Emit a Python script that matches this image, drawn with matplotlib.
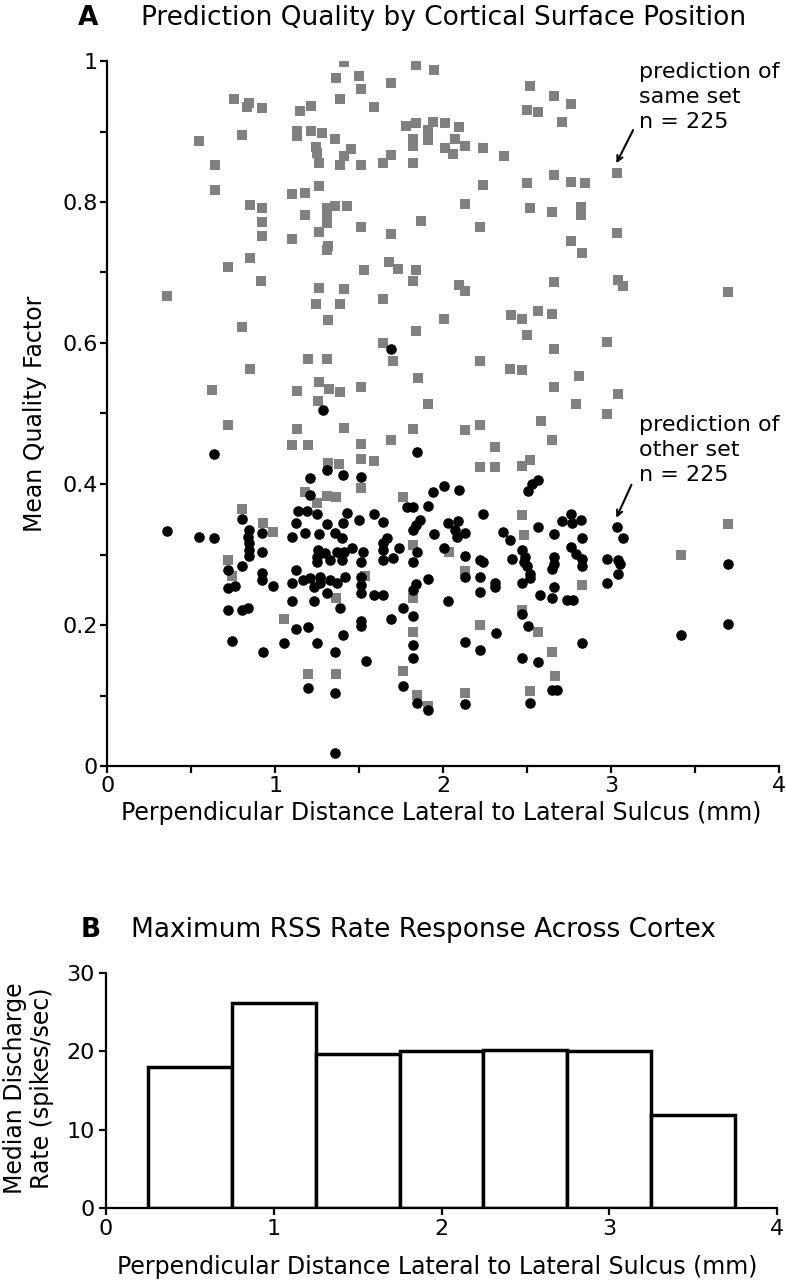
import numpy as np
import matplotlib
matplotlib.use('Agg')
from matplotlib import pyplot as plt
from matplotlib.ticker import MultipleLocator

plt.rcParams['font.family'] = ['DejaVu Sans']

# --- panel A data: prediction of same set (gray squares)
same_x = [1.41, 1.36, 1.50, 1.51, 1.69, 1.84, 1.945, 0.756, 0.843, 0.83, 0.923, 1.385, 1.59, 1.145, 1.21,
          1.13, 1.13, 1.21, 1.28, 1.353, 1.245, 1.25, 1.262, 1.385, 1.41, 1.449, 1.51, 1.64, 1.69, 1.818,
          0.548, 0.80, 0.64, 0.64, 1.78, 1.84, 1.818, 1.82, 1.91, 1.91, 1.94, 2.01, 2.01, 1.10, 1.175,
          1.262, 0.85, 0.923, 0.923, 0.923, 1.175, 1.306, 1.306, 1.31, 1.355, 1.425, 1.51, 1.262, 1.10, 1.313,
          1.307, 1.69, 1.866, 0.85, 0.72, 0.917, 0.355, 1.262, 1.41, 1.385, 1.245, 1.64, 1.528, 1.675, 1.732,
          1.84, 1.818, 1.315, 0.80, 1.84, 2.005, 1.64, 1.70, 1.193, 1.307, 0.85, 1.848, 0.623, 1.13, 1.262,
          1.317, 1.385, 1.51, 1.91, 1.256,
          2.516, 2.66, 2.758, 2.496, 2.565, 2.708, 2.093, 2.07, 2.058, 2.13, 2.238, 2.361, 2.238, 2.13, 2.217,
          2.496, 2.66, 2.758, 2.843, 3.032, 2.516, 2.645, 2.818, 2.818, 3.032, 2.758, 2.824, 2.095, 2.127, 2.66,
          3.04, 3.068, 3.693, 2.403, 2.467, 2.565, 2.645, 2.496, 2.66, 2.976, 2.217, 2.397, 2.468, 2.81, 2.66,
          3.04, 2.79,
          0.72, 1.13, 1.41, 1.818, 1.10, 1.195, 1.51, 1.69, 1.51, 1.587, 1.315, 1.38, 1.51, 1.175, 1.306,
          1.36, 1.247, 1.762, 0.80, 0.929, 0.988, 0.72, 0.74, 1.535, 1.36, 1.82, 1.82, 1.054, 1.818, 1.193,
          1.36, 1.762, 1.846, 1.91,
          2.972, 2.58, 2.128, 2.218, 2.645, 2.308, 2.218, 2.308, 2.468, 2.516, 2.468, 2.48, 2.034, 2.128, 2.824,
          2.468, 2.218, 2.566, 2.645, 2.664, 2.128, 2.516, 3.413, 3.693]
same_y = [0.998, 0.976, 0.979, 0.960, 0.969, 0.994, 0.987, 0.946, 0.940, 0.935, 0.934, 0.946, 0.935, 0.929, 0.936,
          0.901, 0.894, 0.901, 0.898, 0.890, 0.878, 0.869, 0.856, 0.853, 0.865, 0.875, 0.852, 0.855, 0.866, 0.856,
          0.886, 0.895, 0.853, 0.817, 0.908, 0.912, 0.890, 0.880, 0.902, 0.888, 0.914, 0.912, 0.877, 0.812, 0.813,
          0.822, 0.796, 0.792, 0.771, 0.752, 0.782, 0.791, 0.780, 0.770, 0.795, 0.795, 0.765, 0.757, 0.748, 0.738,
          0.732, 0.754, 0.773, 0.720, 0.708, 0.688, 0.667, 0.678, 0.676, 0.656, 0.656, 0.662, 0.703, 0.715, 0.705,
          0.703, 0.688, 0.633, 0.623, 0.617, 0.634, 0.600, 0.575, 0.578, 0.578, 0.563, 0.551, 0.533, 0.532, 0.544,
          0.535, 0.531, 0.538, 0.513, 0.518,
          0.964, 0.951, 0.939, 0.930, 0.927, 0.913, 0.907, 0.890, 0.868, 0.879, 0.876, 0.865, 0.824, 0.797, 0.764,
          0.827, 0.838, 0.828, 0.827, 0.841, 0.792, 0.786, 0.793, 0.782, 0.756, 0.745, 0.728, 0.682, 0.674, 0.686,
          0.690, 0.681, 0.672, 0.640, 0.634, 0.645, 0.641, 0.611, 0.591, 0.601, 0.575, 0.563, 0.561, 0.553, 0.538,
          0.527, 0.513,
          0.483, 0.478, 0.479, 0.478, 0.456, 0.456, 0.457, 0.463, 0.436, 0.433, 0.430, 0.428, 0.395, 0.389, 0.383,
          0.382, 0.373, 0.381, 0.365, 0.344, 0.332, 0.292, 0.269, 0.269, 0.238, 0.239, 0.313, 0.208, 0.190, 0.130,
          0.130, 0.135, 0.101, 0.085,
          0.499, 0.490, 0.476, 0.483, 0.462, 0.453, 0.424, 0.424, 0.425, 0.434, 0.356, 0.328, 0.303, 0.276, 0.257,
          0.221, 0.200, 0.190, 0.162, 0.127, 0.104, 0.107, 0.300, 0.343]

# --- panel A data: prediction of other set (black circles)
other_x = [1.687, 1.282, 0.635, 1.841, 1.307, 1.405, 1.207, 1.510, 1.207, 1.941, 2.006, 1.782, 1.820, 1.911, 1.137,
           1.187, 1.246, 1.425, 1.587, 0.800, 1.123, 1.307, 1.405, 1.498, 1.643, 1.861, 1.838, 1.820, 0.353, 0.546,
           0.637, 0.845, 0.923, 0.840, 1.097, 1.177, 1.260, 1.355, 1.395, 1.947, 2.030, 0.845, 0.845, 0.845, 0.923,
           1.256, 1.246, 1.246, 1.295, 1.325, 1.365, 1.395, 1.454, 1.410, 1.524, 1.510, 1.639, 1.667, 1.643, 1.643,
           1.703, 1.736, 1.841, 1.818, 2.006, 0.720, 0.802, 0.923, 0.923, 0.984, 0.720, 0.760, 1.123, 1.097, 1.167,
           1.207, 1.228, 1.266, 1.266, 1.325, 1.305, 1.365, 1.415, 1.510, 1.510, 1.510, 1.585, 1.643, 1.838, 1.820,
           1.911, 2.030, 0.720, 0.800, 0.840, 1.097, 1.228, 1.385, 1.762, 1.820, 1.687, 1.510, 1.510, 1.123, 1.193,
           1.405, 0.740, 1.054, 1.246, 1.818, 0.929, 1.355, 1.818, 1.538, 1.193, 1.355, 1.762, 1.841, 1.911, 1.355,
           2.095, 2.504, 2.527, 2.566, 2.238, 2.089, 2.070, 2.128, 2.080, 2.358, 2.397, 2.566, 2.661, 2.704, 2.758,
           2.764, 2.818, 2.824, 2.758, 3.036, 3.068, 2.128, 2.218, 2.238, 2.216, 2.128, 2.216, 2.308, 2.308, 2.407,
           2.466, 2.486, 2.480, 2.496, 2.516, 2.516, 2.466, 2.657, 2.657, 2.645, 2.790, 2.827, 2.824, 2.972, 3.042,
           3.050, 3.042, 2.972, 2.661, 2.576, 2.645, 2.734, 2.770, 2.468, 2.506, 2.313, 2.128, 2.218, 2.824, 2.468,
           2.566, 2.645, 2.675, 2.128, 2.516, 3.693, 3.693, 3.413]
other_y = [0.591, 0.505, 0.442, 0.445, 0.420, 0.413, 0.408, 0.410, 0.384, 0.389, 0.397, 0.367, 0.368, 0.369, 0.361,
           0.361, 0.357, 0.359, 0.357, 0.350, 0.344, 0.343, 0.345, 0.349, 0.346, 0.349, 0.342, 0.335, 0.334, 0.325,
           0.323, 0.335, 0.331, 0.325, 0.325, 0.330, 0.329, 0.330, 0.323, 0.329, 0.344, 0.316, 0.306, 0.298, 0.304,
           0.306, 0.297, 0.290, 0.302, 0.292, 0.303, 0.292, 0.309, 0.304, 0.304, 0.290, 0.316, 0.323, 0.306, 0.292,
           0.295, 0.309, 0.304, 0.289, 0.309, 0.278, 0.284, 0.274, 0.264, 0.255, 0.252, 0.255, 0.278, 0.259, 0.264,
           0.266, 0.254, 0.268, 0.259, 0.264, 0.245, 0.259, 0.268, 0.268, 0.257, 0.245, 0.242, 0.242, 0.258, 0.250,
           0.265, 0.234, 0.221, 0.221, 0.224, 0.234, 0.234, 0.224, 0.224, 0.213, 0.208, 0.205, 0.198, 0.194, 0.197,
           0.186, 0.178, 0.175, 0.175, 0.172, 0.162, 0.162, 0.153, 0.149, 0.111, 0.104, 0.114, 0.089, 0.079, 0.018,
           0.392, 0.390, 0.400, 0.406, 0.358, 0.347, 0.335, 0.330, 0.325, 0.332, 0.321, 0.339, 0.329, 0.347, 0.358,
           0.344, 0.349, 0.324, 0.311, 0.339, 0.323, 0.298, 0.292, 0.290, 0.268, 0.268, 0.247, 0.259, 0.254, 0.293,
           0.306, 0.297, 0.290, 0.283, 0.273, 0.266, 0.260, 0.297, 0.287, 0.279, 0.301, 0.294, 0.283, 0.293, 0.292,
           0.287, 0.273, 0.260, 0.254, 0.242, 0.238, 0.235, 0.235, 0.216, 0.198, 0.188, 0.176, 0.164, 0.175, 0.153,
           0.147, 0.108, 0.108, 0.088, 0.090, 0.286, 0.201, 0.186]

# --- panel B data: median discharge rate per 0.5 mm bin
bin_centers = [0.5, 1.0, 1.5, 2.0, 2.5, 3.0, 3.5]
median_rate = [18.0, 26.2, 19.6, 20.0, 20.2, 20.0, 11.9]

W, H = 786, 1280
fig = plt.figure(figsize=(W / 100, H / 100), dpi=100)

def px(x0, y0, x1, y1):
    # pixel box (top-left origin) -> figure fraction rect
    return [x0 / W, 1 - y1 / H, (x1 - x0) / W, (y1 - y0) / H]

lab_fs = 17
tick_fs = 16
title_fs = 19

# ---------------- panel A
ax = fig.add_axes(px(107.3, 61, 779.3, 766))
ax.scatter(same_x, same_y, marker='s', s=42, color='#808080', linewidths=0, zorder=2)
ax.scatter(other_x, other_y, marker='o', s=58, color='black', linewidths=0, zorder=3)
ax.set_xlim(0, 4)
ax.set_ylim(0, 1)
ax.xaxis.set_major_locator(MultipleLocator(1))
ax.xaxis.set_minor_locator(MultipleLocator(0.5))
ax.yaxis.set_minor_locator(MultipleLocator(0.1))
ax.set_yticks([0, 0.2, 0.4, 0.6, 0.8, 1.0])
ax.set_yticklabels(['0', '0.2', '0.4', '0.6', '0.8', '1'])
for s in ['top', 'right']:
    ax.spines[s].set_visible(False)
for s in ['left', 'bottom']:
    ax.spines[s].set_linewidth(1.6)
ax.tick_params(which='both', direction='out', length=5, width=1.6, labelsize=tick_fs, pad=2)
ax.set_xlabel('Perpendicular Distance Lateral to Lateral Sulcus (mm)', fontsize=lab_fs, va='center')
ax.xaxis.set_label_coords(0.4966, -0.066)
ax.set_ylabel('Mean Quality Factor', fontsize=lab_fs, va='center')
ax.yaxis.set_label_coords(-0.107, 0.5)

ax.text(3.165, 0.949, 'prediction of\nsame set\nn = 225', fontsize=16, ha='left', va='center',
        linespacing=1.3)
ax.annotate('', xy=(3.03, 0.855), xytext=(3.13, 0.902),
            arrowprops=dict(arrowstyle='->', lw=1.5, color='black', shrinkA=0, shrinkB=0))
ax.text(3.165, 0.448, 'prediction of\nother set\nn = 225', fontsize=16, ha='left', va='center',
        linespacing=1.3)
ax.annotate('', xy=(3.03, 0.352), xytext=(3.12, 0.399),
            arrowprops=dict(arrowstyle='->', lw=1.5, color='black', shrinkA=0, shrinkB=0))

fig.text(88 / W, 1 - 18 / H, 'A', fontsize=title_fs, fontweight='bold', ha='center', va='center')
fig.text(141 / W, 1 - 18 / H, 'Prediction Quality by Cortical Surface Position', fontsize=title_fs,
         ha='left', va='center')

# ---------------- panel B
bx = fig.add_axes(px(106, 972.7, 777, 1208.3))
bx.bar(bin_centers, median_rate, width=0.5, facecolor='white', edgecolor='black', linewidth=2.5, zorder=2)
bx.set_xlim(0, 4)
bx.set_ylim(0, 30)
bx.set_xticks([0, 1, 2, 3, 4])
bx.set_yticks([0, 10, 20, 30])
for s in ['top', 'right']:
    bx.spines[s].set_visible(False)
for s in ['left', 'bottom']:
    bx.spines[s].set_linewidth(1.6)
bx.tick_params(direction='out', length=5, width=1.6, labelsize=tick_fs, pad=3)
bx.set_xlabel('Perpendicular Distance Lateral to Lateral Sulcus (mm)', fontsize=lab_fs, va='center')
bx.xaxis.set_label_coords(0.493, -0.249)
bx.set_ylabel('Median Discharge\nRate (spikes/sec)', fontsize=lab_fs, va='center', linespacing=1.15)
bx.yaxis.set_label_coords(-0.1155, 0.51)

fig.text(91 / W, 1 - 930 / H, 'B', fontsize=title_fs, fontweight='bold', ha='center', va='center')
fig.text(131 / W, 1 - 930 / H, 'Maximum RSS Rate Response Across Cortex', fontsize=title_fs,
         ha='left', va='center')

fig.savefig('out.png', dpi=100)
